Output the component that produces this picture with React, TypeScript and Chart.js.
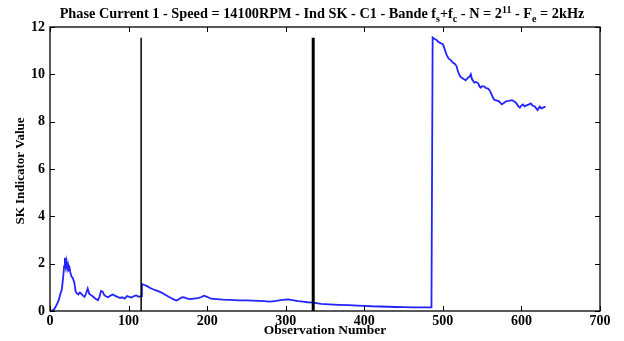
import React, { useEffect, useRef } from "react";
import { Chart, registerables } from "chart.js";

Chart.register(...registerables);

// Observation index and SK indicator value of the phase-current trace
const obsIndex: number[] = [
  0, 3, 6, 9, 11, 13, 15, 16, 17, 18, 19, 20, 21, 22, 23, 24, 25, 26, 27.5, 29, 31, 32.5, 34, 36, 38, 40, 42, 44, 46, 48,
  50, 52, 55, 58, 61, 63, 65, 67, 69, 71, 74, 77, 80, 83, 86, 89, 92, 95, 98, 101, 104, 107, 110, 113, 116,
  117, 120, 123, 127, 131, 135, 139, 142, 146, 150, 154, 158, 161, 164, 167, 170, 174, 178, 183, 188, 192, 196, 200,
  205, 212, 220, 230, 240, 250, 258, 265, 272, 280, 288, 296, 303, 310, 316, 322, 328, 335,
  345, 355, 368, 380, 392, 400, 410, 420, 430, 440, 450, 462, 475, 485.5, 487,
  489, 492, 494, 496, 498, 500, 502, 503, 505, 507.6, 510, 513, 515, 517.4, 519, 521.6, 524, 527, 529, 532, 534, 535.6,
  537, 540, 542, 545, 546.5, 548, 550, 553, 555, 557.6, 560, 562, 564, 566, 568, 571, 573, 575, 578, 581, 584, 588,
  591, 593.7, 596, 598, 600, 602, 604, 606.5, 609, 612, 614, 617, 619, 620.5, 622, 623.4, 625, 627.6, 629, 630.6,
];
const skValue: number[] = [
  0.02, 0.02, 0.1, 0.3, 0.45, 0.7, 0.9, 1.2, 1.5, 1.9, 2.25, 1.9, 2.1, 1.8, 1.95, 1.75, 1.8, 1.6, 1.45, 1.4, 1.2, 0.85, 0.75, 0.7, 0.78, 0.72, 0.65, 0.6, 0.75, 0.95,
  0.72, 0.68, 0.6, 0.52, 0.46, 0.6, 0.85, 0.82, 0.68, 0.62, 0.58, 0.65, 0.7, 0.64, 0.6, 0.55, 0.58, 0.52, 0.63, 0.6, 0.57, 0.63, 0.66, 0.6, 0.63,
  1.14, 1.1, 1.06, 0.98, 0.92, 0.87, 0.82, 0.78, 0.7, 0.62, 0.55, 0.48, 0.44, 0.5, 0.57, 0.58, 0.53, 0.5, 0.52, 0.54, 0.58, 0.65, 0.6,
  0.52, 0.5, 0.48, 0.47, 0.45, 0.45, 0.44, 0.43, 0.42, 0.4, 0.43, 0.47, 0.49, 0.45, 0.42, 0.4, 0.37, 0.35,
  0.3, 0.28, 0.26, 0.25, 0.23, 0.22, 0.2, 0.19, 0.18, 0.17, 0.16, 0.15, 0.15, 0.15, 11.55,
  11.5, 11.45, 11.38, 11.34, 11.3, 11.27, 11.1, 10.99, 10.8, 10.66, 10.6, 10.49, 10.45, 10.35, 10.15, 9.93, 9.85, 9.79, 9.75, 9.86, 9.9, 10.0,
  9.8, 9.65, 9.68, 9.62, 9.5, 9.44, 9.5, 9.48, 9.42, 9.4, 9.3, 9.15, 9.0, 8.91, 8.9, 8.87, 8.8, 8.73, 8.8, 8.87, 8.88, 8.91,
  8.85, 8.77, 8.65, 8.59, 8.68, 8.73, 8.65, 8.69, 8.72, 8.77, 8.68, 8.64, 8.55, 8.49, 8.58, 8.64, 8.56, 8.59, 8.62, 8.62,
];

// Vertical markers: observation position, height and stroke width
const markerObs: number[] = [116, 335];
const markerTop: number[] = [11.55, 11.55];
const markerWidth: number[] = [1.5, 3];

const xTicks: number[] = [0, 100, 200, 300, 400, 500, 600, 700];
const yTicks: number[] = [0, 2, 4, 6, 8, 10, 12];

const SERIF = "'Liberation Serif', 'DejaVu Serif', serif";

type Seg = { t: string; k?: "sub" | "sup" };
const titleSegs: Seg[] = [
  { t: "Phase Current 1 - Speed = 14100RPM - Ind SK - C1 - Bande f" },
  { t: "s", k: "sub" },
  { t: "+f" },
  { t: "c", k: "sub" },
  { t: " - N = 2" },
  { t: "11", k: "sup" },
  { t: " - F" },
  { t: "e", k: "sub" },
  { t: " = 2kHz" },
];

const framePlugin = {
  id: "matlabFrame",
  afterDraw(chart: any) {
    const { ctx, chartArea: a, scales } = chart;
    const xs = scales.x;
    const ys = scales.y;
    ctx.save();
    ctx.strokeStyle = "#000";
    ctx.lineWidth = 1.3;
    ctx.strokeRect(a.left, a.top, a.right - a.left, a.bottom - a.top);
    ctx.lineWidth = 1;
    const tl = 5;
    ctx.beginPath();
    xTicks.forEach((v) => {
      const px = Math.round(xs.getPixelForValue(v)) + 0.5;
      ctx.moveTo(px, a.bottom);
      ctx.lineTo(px, a.bottom - tl);
      ctx.moveTo(px, a.top);
      ctx.lineTo(px, a.top + tl);
    });
    yTicks.forEach((v) => {
      const py = Math.round(ys.getPixelForValue(v)) + 0.5;
      ctx.moveTo(a.left, py);
      ctx.lineTo(a.left + tl, py);
      ctx.moveTo(a.right, py);
      ctx.lineTo(a.right - tl, py);
    });
    ctx.stroke();

    // Title with sub/superscripts
    ctx.fillStyle = "#000";
    ctx.textBaseline = "alphabetic";
    ctx.textAlign = "left";
    const main = `bold 14.3px ${SERIF}`;
    const small = `bold 10px ${SERIF}`;
    let total = 0;
    titleSegs.forEach((s) => {
      ctx.font = s.k ? small : main;
      total += ctx.measureText(s.t).width;
    });
    let x = 322 - total / 2;
    const base = 18;
    titleSegs.forEach((s) => {
      ctx.font = s.k ? small : main;
      const dy = s.k === "sub" ? 4 : s.k === "sup" ? -5 : 0;
      ctx.fillText(s.t, x, base + dy);
      x += ctx.measureText(s.t).width;
    });

    // Axis titles
    ctx.font = `bold 13.5px ${SERIF}`;
    ctx.textAlign = "center";
    ctx.textBaseline = "middle";
    ctx.fillText("Observation Number", (a.left + a.right) / 2, 331);
    ctx.save();
    ctx.translate(21, (a.top + a.bottom) / 2 + 2);
    ctx.rotate(-Math.PI / 2);
    ctx.font = `bold 13px ${SERIF}`;
    ctx.fillText("SK Indicator Value", 0, 0);
    ctx.restore();
    ctx.restore();
  },
};

export default function App() {
  const ref = useRef<HTMLCanvasElement | null>(null);

  useEffect(() => {
    if (!ref.current) return;
    const trace = obsIndex.map((x, i) => ({ x, y: skValue[i] }));
    const markers = markerObs.map((x, i) => ({
      type: "line" as const,
      data: [
        { x, y: 0 },
        { x, y: markerTop[i] },
      ],
      borderColor: "#000",
      borderWidth: markerWidth[i],
      pointRadius: 0,
      order: 0,
    }));
    const chart = new Chart(ref.current, {
      type: "line",
      data: {
        datasets: [
          ...markers,
          {
            data: trace,
            borderColor: "rgb(35,35,255)",
            borderWidth: 1.8,
            pointRadius: 0,
            tension: 0,
            order: 1,
          },
        ],
      },
      options: {
        responsive: false,
        animation: false,
        parsing: true,
        layout: { padding: { top: 27, right: 24, left: 0, bottom: 0 } },
        plugins: { legend: { display: false }, tooltip: { enabled: false }, title: { display: false } },
        scales: {
          x: {
            type: "linear",
            min: 0,
            max: 700,
            afterFit: (s: any) => {
              s.height = 30;
            },
            afterBuildTicks: (s: any) => {
              s.ticks = xTicks.map((v) => ({ value: v }));
            },
            grid: { display: false, drawTicks: false },
            border: { display: false },
            ticks: {
              color: "#000",
              padding: 2,
              maxRotation: 0,
              autoSkip: false,
              font: { family: SERIF, size: 14, weight: "bold" },
            },
          },
          y: {
            type: "linear",
            min: 0,
            max: 12,
            afterFit: (s: any) => {
              s.width = 50;
            },
            afterBuildTicks: (s: any) => {
              s.ticks = yTicks.map((v) => ({ value: v }));
            },
            grid: { display: false, drawTicks: false },
            border: { display: false },
            ticks: {
              color: "#000",
              padding: 5,
              autoSkip: false,
              font: { family: SERIF, size: 14, weight: "bold" },
            },
          },
        },
      },
      plugins: [framePlugin],
    });
    return () => chart.destroy();
  }, []);

  return (
    <div style={{ position: "absolute", left: 0, top: 0, width: 624, height: 341, background: "#fff" }}>
      <canvas ref={ref} width={624} height={341} style={{ display: "block" }} />
    </div>
  );
}
